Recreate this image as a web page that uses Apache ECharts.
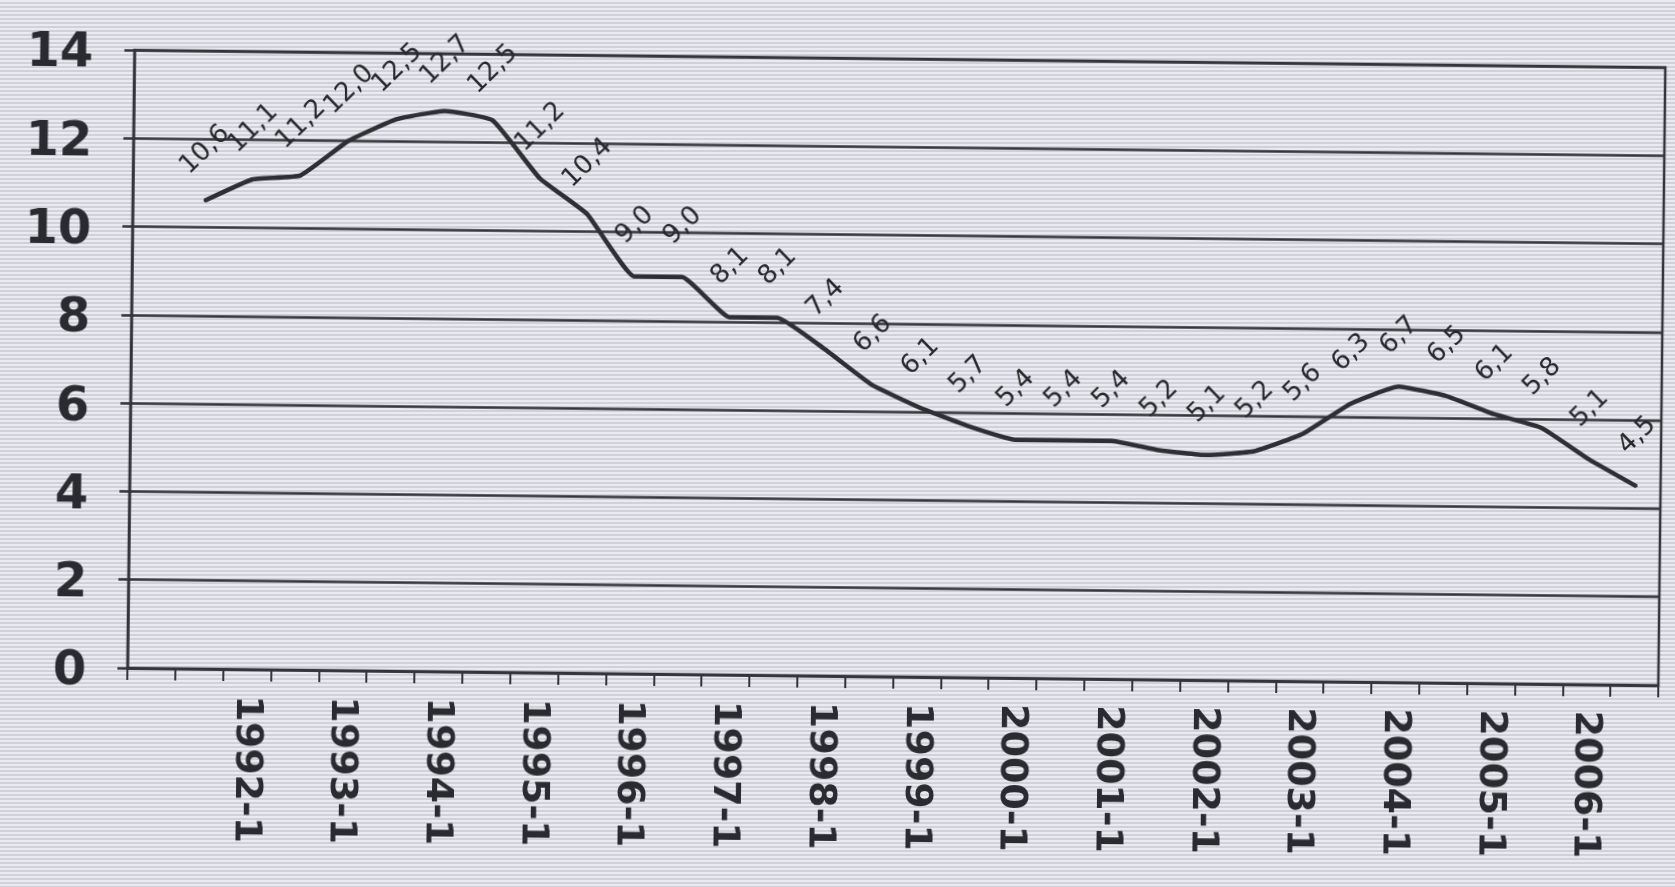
<!DOCTYPE html>
<html><head><meta charset="utf-8">
<script src="https://cdn.jsdelivr.net/npm/echarts@6/dist/echarts.min.js"></script>
<style>
html,body{margin:0;padding:0;width:1675px;height:887px;overflow:hidden;
background:repeating-linear-gradient(to bottom,#eaebf0 0px,#eaebf0 2px,#d0d2d9 2px,#d0d2d9 4px);}
#chart{width:1675px;height:887px;transform:rotate(0.65deg);transform-origin:50% 50%;}
</style></head><body><div id="chart"></div>
<script>
const categories = ['1991-1','1991-2','1992-1','1992-2','1993-1','1993-2','1994-1','1994-2',
  '1995-1','1995-2','1996-1','1996-2','1997-1','1997-2','1998-1','1998-2',
  '1999-1','1999-2','2000-1','2000-2','2001-1','2001-2','2002-1','2002-2',
  '2003-1','2003-2','2004-1','2004-2','2005-1','2005-2','2006-1','2006-2'];
const values = [null,10.6,11.1,11.2,12.0,12.5,12.7,12.5,11.2,10.4,9.0,9.0,8.1,8.1,7.4,6.6,
  6.1,5.7,5.4,5.4,5.4,5.2,5.1,5.2,5.6,6.3,6.7,6.5,6.1,5.8,5.1,4.5];
const yTicks = {min:0,max:14,step:2};

const ink = '#33343a';
const chart = echarts.init(document.getElementById('chart'), null, {renderer:'canvas'});
chart.setOption({
  backgroundColor:'transparent',
  animation:false,
  grid:{left:130,right:14,top:58,bottom:211,show:true,borderColor:ink,borderWidth:2.5,backgroundColor:'transparent'},
  xAxis:{
    type:'category',data:categories,boundaryGap:true,
    axisLine:{lineStyle:{color:ink,width:2.5}},
    axisTick:{show:true,interval:0,length:12,lineStyle:{color:ink,width:2}},
    axisLabel:{interval:(i)=>i%2===0&&i>0,rotate:-90,margin:26,color:'#2a2b30',
      fontFamily:'DejaVu Sans',fontWeight:'bold',fontSize:38}
  },
  yAxis:{
    type:'value',min:yTicks.min,max:yTicks.max,interval:yTicks.step,
    axisLine:{show:true,lineStyle:{color:ink,width:2.5}},
    axisTick:{show:true,length:10,lineStyle:{color:ink,width:2.5}},
    splitLine:{show:true,lineStyle:{color:ink,width:2.5}},
    axisLabel:{margin:41,formatter:(v)=>'{a|'+v+'}',
      rich:{a:{padding:[10,0,0,0],color:'#2a2b30',fontFamily:'DejaVu Sans',fontWeight:'bold',fontSize:48}}}
  },
  series:[{
    type:'line',data:values,smooth:0.12,showSymbol:true,showAllSymbol:true,symbol:'circle',symbolSize:2,
    itemStyle:{color:'#2e2f34'},connectNulls:false,
    lineStyle:{color:'#2e2f34',width:4.5},
    labelLayout:{hideOverlap:false},
    label:{show:true,position:'top',distance:50,offset:[10,6],rotate:45,align:'center',verticalAlign:'middle',
      color:'#27282d',fontFamily:'DejaVu Sans',fontSize:26,
      formatter:(p)=>(p.value==null?'':Number(p.value).toFixed(1).replace('.',','))}
  }]
});
</script></body></html>
